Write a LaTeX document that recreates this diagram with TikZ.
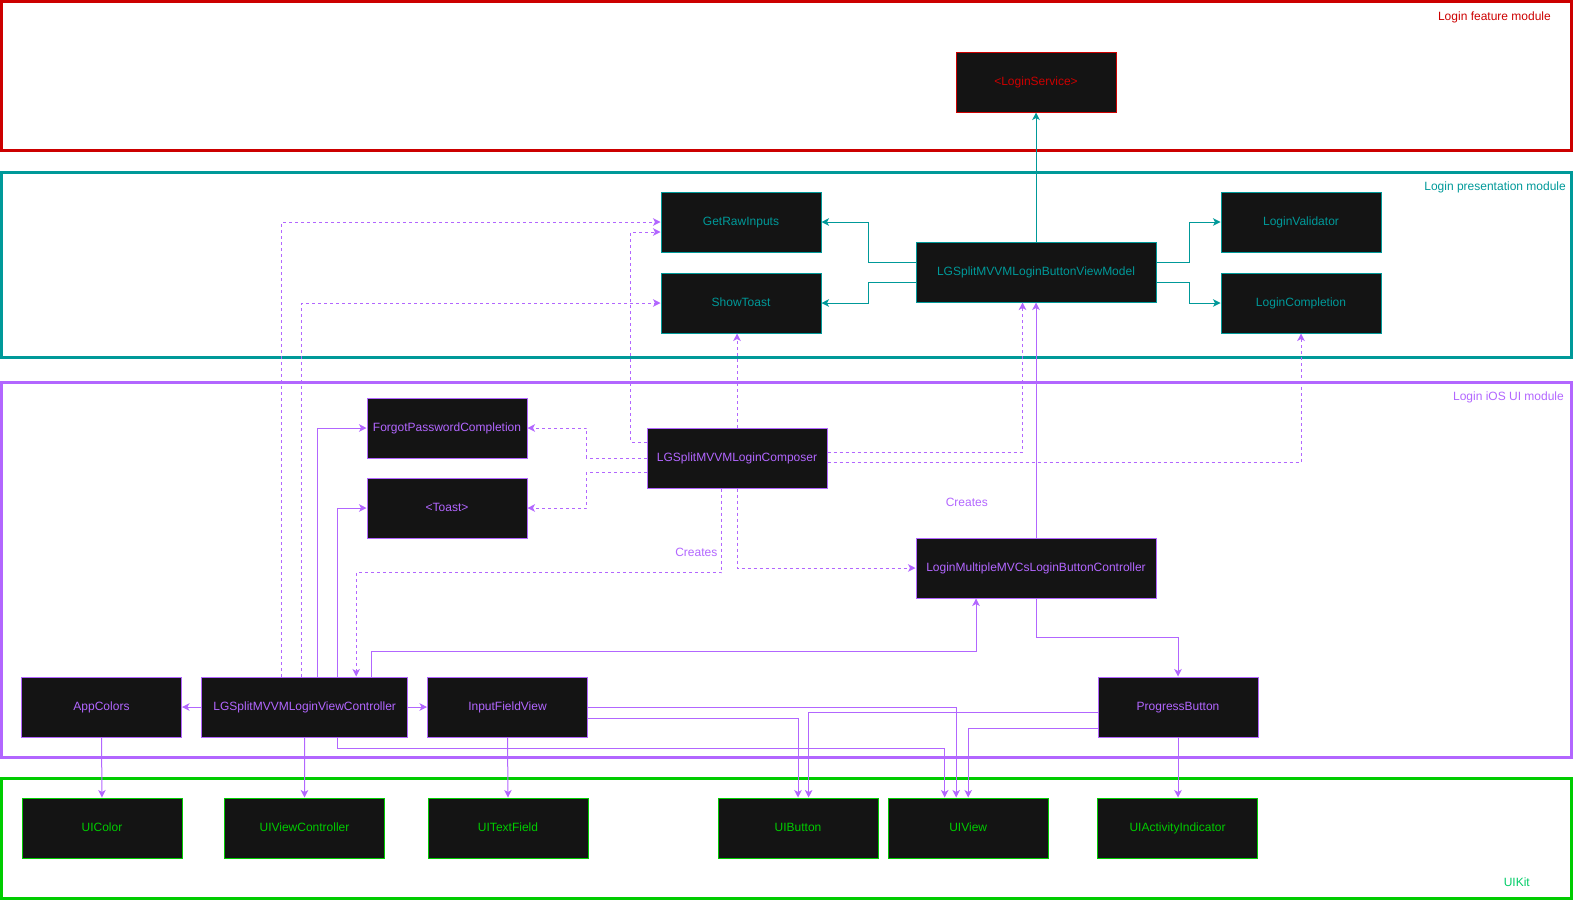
\documentclass[tikz,border=0pt]{standalone}
\usepackage{fontspec}
\setmainfont{Liberation Sans}
\usetikzlibrary{arrows.meta}
\definecolor{cred}{HTML}{CC0000}
\definecolor{cteal}{HTML}{009999}
\definecolor{cpur}{HTML}{B266FF}
\definecolor{cgrn}{HTML}{00CC00}
\definecolor{cuik}{HTML}{00CC66}
\definecolor{boxfill}{HTML}{141414}
\tikzset{
  box/.style={draw, fill=boxfill, line width=1pt, minimum height=60pt, minimum width=160pt, inner sep=2pt, text height=10pt, text depth=2.6pt, font=\fontsize{12}{14}\selectfont},
  redbox/.style={box, draw=cred, text=cred},
  tealbox/.style={box, draw=cteal, text=cteal},
  purbox/.style={box, draw=cpur, text=cpur},
  grnbox/.style={box, draw=cgrn, text=cgrn},
  conn/.style={line width=1pt, -{Stealth[length=7.5pt,width=7.5pt,inset=2pt]}},
  tconn/.style={conn, draw=cteal},
  pconn/.style={conn, draw=cpur},
  pdash/.style={pconn, dash pattern=on 3pt off 3pt},
  modframe/.style={line width=3pt},
  modlabel/.style={anchor=east, inner sep=0pt, text height=10pt, text depth=2.6pt, font=\fontsize{12}{14}\selectfont},
  clabel/.style={inner sep=0pt, text=cpur, text height=10pt, text depth=2.6pt, font=\fontsize{12}{14}\selectfont},
}
\begin{document}
\begin{tikzpicture}[x=1pt,y=-1pt]
\useasboundingbox (0,0) rectangle (1573,900);
% module frames
\draw[modframe, cred] (1.5,1.5) rectangle (1571,150);
\draw[modframe, cteal] (1.5,172.5) rectangle (1571,357);
\draw[modframe, cpur] (1.5,382) rectangle (1571,757);
\draw[modframe, cgrn] (1.5,778) rectangle (1571,898);
\node[modlabel, text=cred] (lblfeat) at (1551,16.5) {Login feature module};
\node[modlabel, text=cteal] (lblpres) at (1566,187) {Login presentation module};
\node[modlabel, text=cpur] (lblios) at (1564,396.5) {Login iOS UI module};
\node[modlabel, text=cuik] (lbluik) at (1530,882.5) {UIKit};

% nodes
\node[redbox] (ls) at (1036,82) {<LoginService>};
\node[tealbox] (gri) at (741,222) {GetRawInputs};
\node[tealbox] (st) at (741,303) {ShowToast};
\node[tealbox, minimum width=240pt] (vm) at (1036,272) {LGSplitMVVMLoginButtonViewModel};
\node[tealbox] (lv) at (1301,222) {LoginValidator};
\node[tealbox] (lc) at (1301,303) {LoginCompletion};
\node[purbox] (fpc) at (447,428) {ForgotPasswordCompletion};
\node[purbox] (toast) at (447,508) {<Toast>};
\node[purbox, minimum width=180pt] (comp) at (737,458) {LGSplitMVVMLoginComposer};
\node[purbox, minimum width=240pt] (mvc) at (1036,568) {LoginMultipleMVCsLoginButtonController};
\node[purbox] (ac) at (101.5,707) {AppColors};
\node[purbox, minimum width=206pt] (vc) at (304.7,707) {LGSplitMVVMLoginViewController};
\node[purbox] (ifv) at (507.5,707) {InputFieldView};
\node[purbox] (pb) at (1178,707) {ProgressButton};
\node[grnbox] (uic) at (102,828) {UIColor};
\node[grnbox] (uivc) at (304.5,828) {UIViewController};
\node[grnbox] (uitf) at (508,828) {UITextField};
\node[grnbox] (uib) at (798,828) {UIButton};
\node[grnbox] (uiv) at (968.2,828) {UIView};
\node[grnbox] (uiai) at (1177.5,828) {UIActivityIndicator};

% presentation connectors
\draw[tconn] (vm.north) -- (ls.south);
\draw[tconn] ([yshift=10pt]vm.west) -- ++(-47,0) |- (gri.east);
\draw[tconn] ([yshift=-10pt]vm.west) -- ++(-47,0) |- (st.east);
\draw[tconn] ([yshift=10pt]vm.east) -- ++(33,0) |- (lv.west);
\draw[tconn] ([yshift=-10pt]vm.east) -- ++(33,0) |- (lc.west);

% composer dependencies (dashed)
\draw[pdash] ([yshift=16pt]comp.west) -- ++(-15.7,0) |- ([yshift=-10pt]gri.west);
\draw[pdash] (comp.west) -- ++(-60,0) |- (fpc.east);
\draw[pdash] ([yshift=-14pt]comp.west) -- ++(-60,0) |- (toast.east);
\draw[pdash] (comp.north) -- (comp.north |- st.south);
\draw[pdash] ([yshift=6pt]comp.east) -| ([xshift=-13.5pt]vm.south);
\draw[pdash] ([yshift=-4pt]comp.east) -| (lc.south);
\draw[pdash] (comp.south) |- (mvc.west);
\draw[pdash] ([xshift=-15.5pt]comp.south) -- ++(0,84) -| ([xshift=51.5pt]vc.north);
\node[clabel, anchor=east] (cr1) at (717.5,553) {Creates};
\node[clabel] (cr2) at (966.8,503) {Creates};

% view controller dependencies
\draw[pdash] ([xshift=-23pt]vc.north) |- (gri.west);
\draw[pdash] ([xshift=-3pt]vc.north) |- (st.west);
\draw[pconn] ([xshift=12.8pt]vc.north) |- (fpc.west);
\draw[pconn] ([xshift=32.6pt]vc.north) |- (toast.west);
\draw[pconn] ([xshift=66.6pt]vc.north) -- ++(0,-25) -| ([xshift=-60pt]mvc.south);
\draw[pconn] (mvc.north) -- (vm.south);
\draw[pconn] (mvc.south) -- ++(0,39) -| (pb.north);
\draw[pconn] (vc.west) -- (ac.east);
\draw[pconn] (vc.east) -- (ifv.west);

% UIKit dependencies
\draw[pconn] (ac.south) -- (uic.north);
\draw[pconn] (vc.south) -- (uivc.north);
\draw[pconn] (ifv.south) -- (uitf.north);
\draw[pconn] (ifv.east) -| ([xshift=-12pt]uiv.north);
\draw[pconn] ([yshift=-11pt]ifv.east) -| (uib.north);
\draw[pconn] ([yshift=-5pt]pb.west) -| ([xshift=10.6pt]uib.north);
\draw[pconn] ([yshift=-21pt]pb.west) -| (uiv.north);
\draw[pconn] ([xshift=32.6pt]vc.south) -- ++(0,11) -| ([xshift=-23.5pt]uiv.north);
\draw[pconn] (pb.south) -- (pb.south |- uiai.north);
\end{tikzpicture}
\end{document}
